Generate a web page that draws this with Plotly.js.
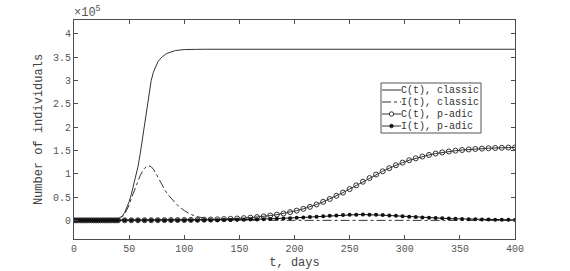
<!DOCTYPE html>
<html>
<head>
<meta charset="utf-8">
<script src="https://cdn.plot.ly/plotly-3.0.1.min.js"></script>
<style>html,body{margin:0;padding:0;background:#fff;}#chart{width:570px;height:271px;}</style>
</head>
<body>
<div id="chart"></div>
<script>
// values in units of 10^5 individuals
const tClassicC = [0,30,35,38,40,42,44,46,48,50,52,54,56,58,60,62,64,66,68,70,72,74,76,78,80,84,88,92,96,100,110,120,400];
const cClassic  = [0,0,0.005,0.015,0.03,0.06,0.1,0.17,0.27,0.4,0.56,0.74,0.93,1.15,1.42,1.75,2.1,2.45,2.75,3.0,3.18,3.3,3.4,3.46,3.51,3.58,3.62,3.645,3.655,3.665,3.67,3.672,3.672];

const tClassicI = [0,35,38,40,42,44,46,48,50,52,54,56,58,60,62,64,66,68,70,72,74,76,78,80,83,86,90,95,100,105,110,115,120,130,140,160,200,400];
const iClassic  = [0,0,0.01,0.02,0.04,0.08,0.14,0.23,0.33,0.47,0.6,0.73,0.85,0.96,1.05,1.12,1.16,1.17,1.15,1.1,1.02,0.93,0.84,0.75,0.63,0.53,0.42,0.3,0.21,0.14,0.09,0.055,0.035,0.018,0.009,0.003,0,0];

const tPadic = [0,2,4,6,8,10,12,14,16,18,20,22,24,26,28,30,32,34,36,38,
  40,46,52,58,64,70,76,82,88,94,100,106,112,118,124,130,136,142,148,154,160,166,172,178,184,190,196,
  202,208,214,220,226,232,238,244,250,256,262,268,274,280,286,292,298,304,310,316,322,328,334,340,346,
  352,358,364,370,376,382,388,394,400];
const cPadic = [0,0,0,0,0,0,0,0,0,0,0,0,0,0,0,0,0,0,0,0,
  0.001,0.001,0.002,0.002,0.003,0.003,0.004,0.005,0.006,0.007,0.008,0.010,0.012,0.015,0.018,0.022,0.027,0.033,0.040,0.048,0.058,0.070,0.085,0.103,0.123,0.147,0.176,
  0.209,0.248,0.290,0.341,0.398,0.459,0.528,0.596,0.672,0.751,0.829,0.907,0.983,1.052,1.120,1.183,1.239,1.290,1.332,1.370,1.404,1.434,1.458,1.478,1.495,
  1.510,1.522,1.532,1.540,1.547,1.553,1.558,1.562,1.565];
const iPadic = [0,0,0,0,0,0,0,0,0,0,0,0,0,0,0,0,0,0,0,0,
  0,0,0,0,0,0,0,0,0.001,0.001,0.001,0.002,0.002,0.003,0.004,0.005,0.007,0.009,0.011,0.014,0.017,0.021,0.025,0.030,0.035,0.041,0.048,
  0.055,0.063,0.071,0.080,0.089,0.098,0.106,0.113,0.119,0.123,0.125,0.123,0.119,0.113,0.105,0.097,0.088,0.080,0.072,0.064,0.057,0.050,0.044,0.038,0.033,
  0.029,0.025,0.022,0.019,0.017,0.015,0.013,0.011,0.010];

const legendNames = ['C(t), classic','I(t), classic','C(t), p-adic','I(t), p-adic'];
const xTicks = [0,50,100,150,200,250,300,350,400];
const yTicks = [0,0.5,1,1.5,2,2.5,3,3.5,4];
const yTickText = ['0','0.5','1','1.5','2','2.5','3','3.5','4'];

const ink = '#333333';
const axisCol = '#4d4d4d';
const mono = 'Liberation Mono, Courier New, monospace';

const traces = [
  {x:tClassicC, y:cClassic, name:legendNames[0], mode:'lines', line:{color:ink, width:1}},
  {x:tClassicI, y:iClassic, name:legendNames[1], mode:'lines', line:{color:ink, width:1, dash:'dashdot'}},
  {x:tPadic, y:cPadic, name:legendNames[2], mode:'lines+markers', line:{color:ink, width:1},
   marker:{symbol:'circle-open', size:5, color:ink, line:{width:1, color:ink}}},
  {x:tPadic, y:iPadic, name:legendNames[3], mode:'lines+markers', line:{color:'#111', width:1},
   marker:{symbol:'circle', size:4, color:'#111'}}
];

// compact legend box (Plotly's own legend rows are too tall for this chart)
const M = {l:74, r:55, t:20, b:32}, W = 570, H = 271;
const pw = W - M.l - M.r, ph = H - M.t - M.b;
const px = v => (v - M.l) / pw;
const py = v => (H - M.b - v) / ph;
const box = {x0:381, x1:481, y0:83, y1:133};
const rowY = [90, 102, 114, 126];
const sampleX0 = 382, sampleX1 = 401, textX = 401;
const shapes = [
  {type:'rect', xref:'paper', yref:'paper', x0:px(box.x0), x1:px(box.x1), y0:py(box.y1), y1:py(box.y0),
   fillcolor:'#fff', line:{color:'#555', width:1}, layer:'above'}
];
const annotations = [
  {xref:'paper', yref:'paper', x:0, y:1, xanchor:'left', yanchor:'bottom', showarrow:false,
   text:'×10<sup>5</sup>', font:{family:mono, size:12, color:'#555'}, yshift:-2, xshift:-2}
];
traces.forEach((tr, k) => {
  shapes.push({type:'line', xref:'paper', yref:'paper', x0:px(sampleX0), x1:px(sampleX1), y0:py(rowY[k]), y1:py(rowY[k]),
    line:{color:ink, width:1, dash: tr.line.dash || 'solid'}, layer:'above'});
  if (tr.marker) {
    const r = tr.marker.symbol === 'circle-open' ? 2.2 : 1.8;
    const cx = (sampleX0 + sampleX1) / 2;
    shapes.push({type:'circle', xref:'paper', yref:'paper', x0:px(cx - r), x1:px(cx + r), y0:py(rowY[k] + r), y1:py(rowY[k] - r),
      fillcolor: tr.marker.symbol === 'circle-open' ? '#fff' : '#111', line:{color:ink, width:1}, layer:'above'});
  }
  annotations.push({xref:'paper', yref:'paper', x:px(textX), y:py(rowY[k]), xanchor:'left', yanchor:'middle',
    showarrow:false, text:tr.name, font:{family:mono, size:10, color:'#333'}, xshift:-2});
});

const axisCommon = {
  showline:true, mirror:'ticks', linecolor:axisCol, linewidth:1,
  ticks:'inside', ticklen:4, tickcolor:axisCol, showgrid:false, zeroline:false,
  tickfont:{family:mono, size:10, color:'#555'}
};

const layout = {
  width:W, height:H,
  margin:M,
  paper_bgcolor:'#fff', plot_bgcolor:'#fff',
  showlegend:false,
  xaxis:Object.assign({}, axisCommon, {range:[0,400], tickvals:xTicks, ticktext:xTicks.map(String),
    title:{text:'t, days', font:{family:mono, size:12, color:'#444'}, standoff:3}}),
  yaxis:Object.assign({}, axisCommon, {range:[-0.4,4.3], tickvals:yTicks, ticktext:yTickText,
    title:{text:'Number of individuals', font:{family:mono, size:12, color:'#444'}, standoff:7}}),
  shapes:shapes,
  annotations:annotations
};

Plotly.newPlot('chart', traces, layout, {displayModeBar:false, staticPlot:true});
</script>
</body>
</html>
